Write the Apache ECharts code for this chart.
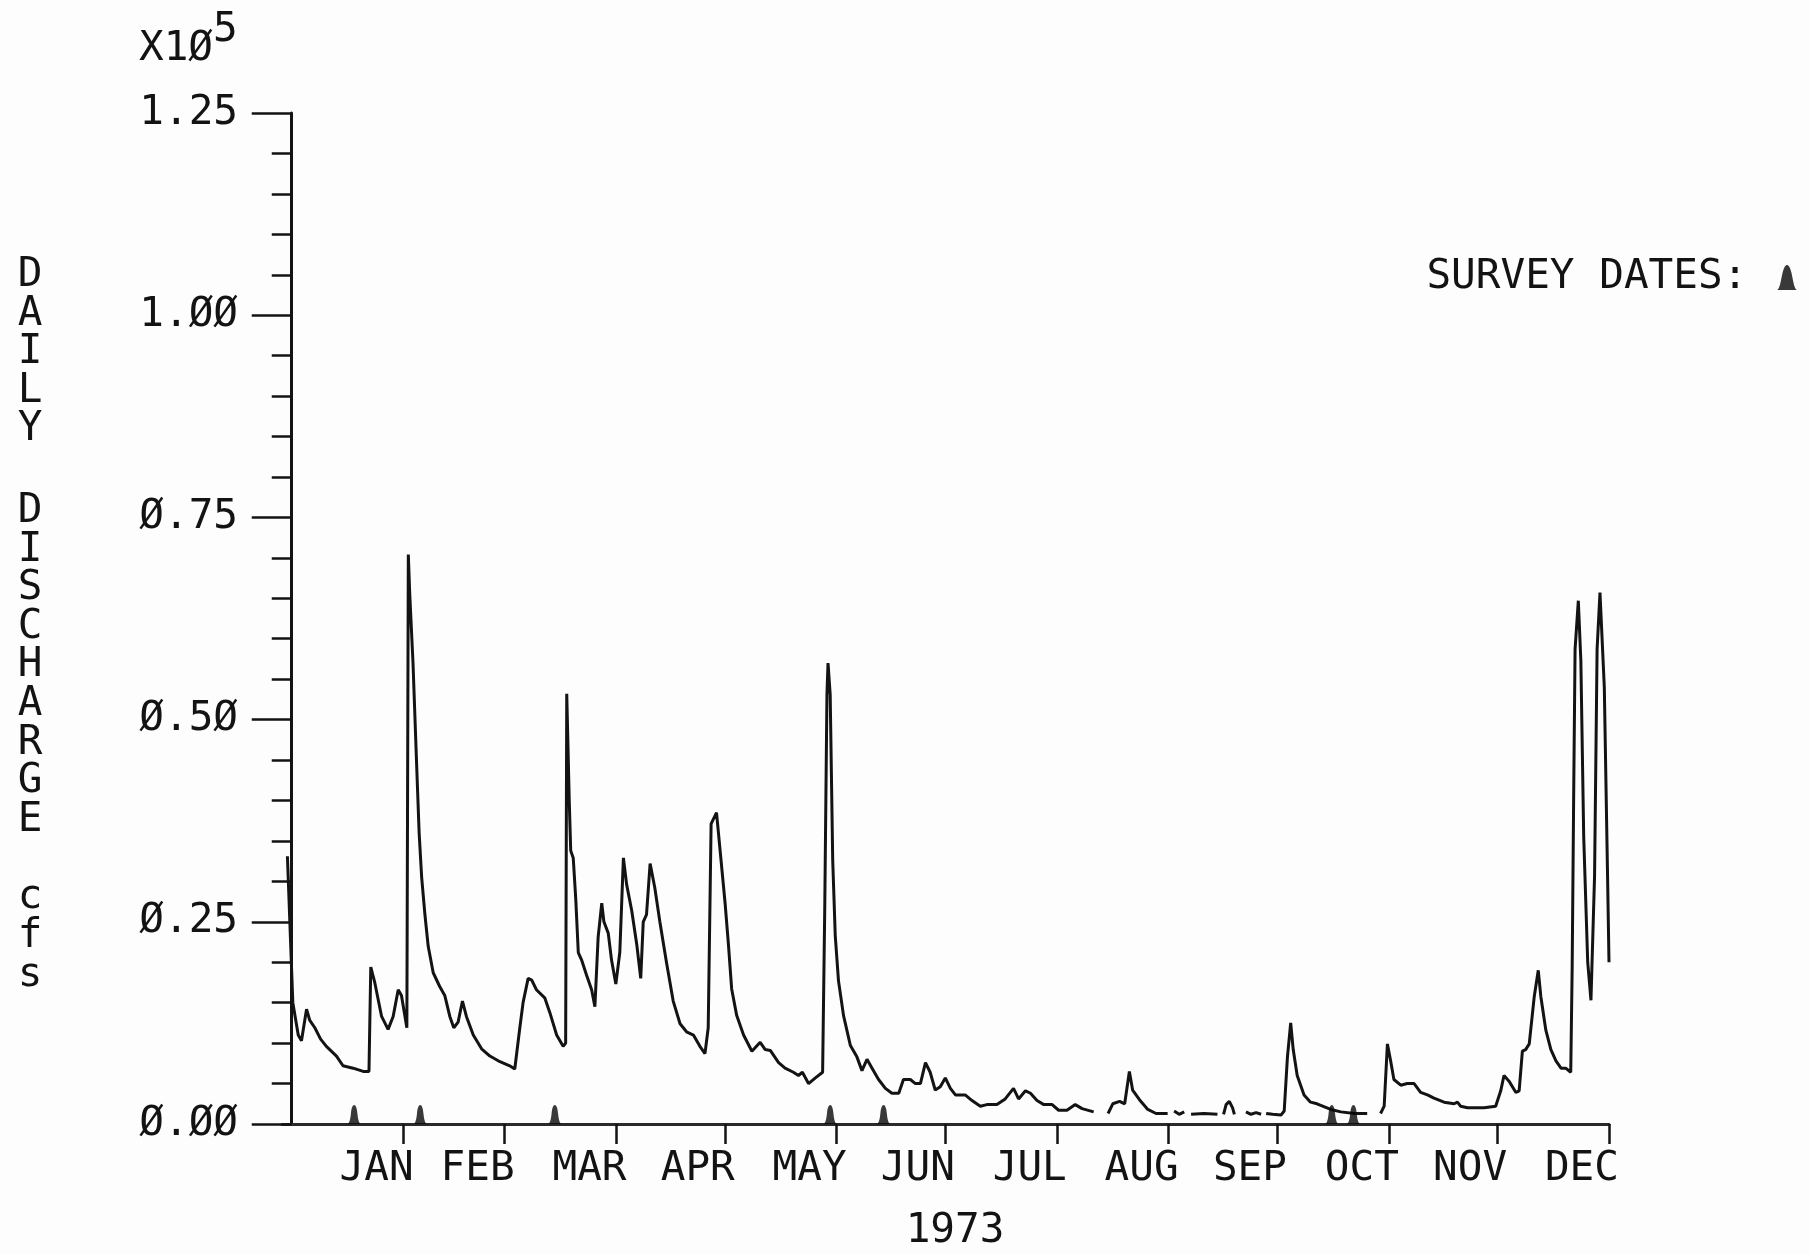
<!DOCTYPE html>
<html>
<head>
<meta charset="utf-8">
<title>Daily discharge 1973</title>
<script src="https://cdn.jsdelivr.net/npm/echarts@6/dist/echarts.min.js"></script>
<style>
  html, body { margin: 0; padding: 0; background: #fdfdfd; }
  #chart { width: 1810px; height: 1254px; }
</style>
</head>
<body>
<div id="chart"></div>
<script>
// Month labels and the day-of-year at which each month ends (tick positions)
const monthNames = ['JAN', 'FEB', 'MAR', 'APR', 'MAY', 'JUN', 'JUL', 'AUG', 'SEP', 'OCT', 'NOV', 'DEC'];
const monthEnds = [31, 59, 90, 120, 151, 181, 212, 243, 273, 304, 334, 365];

// Days (from Jan 1) on which surveys were made
const surveyDays = [17.3, 35.6, 72.9, 149.2, 164.0, 288.2, 294.2];

// Daily discharge, [day of year, cfs x 10^5]; null marks a break in the record
const discharge = [
  [-1.2, 0.331], [0.3, 0.150], [1.8, 0.110], [2.7, 0.103], [4.1, 0.142], [5.0, 0.128],
  [6.4, 0.119], [8.0, 0.105], [9.6, 0.096], [12.4, 0.084], [14.2, 0.072], [17.0, 0.069],
  [19.8, 0.065], [21.4, 0.065], [21.9, 0.194], [23.0, 0.175], [24.9, 0.133], [26.7, 0.117],
  [28.1, 0.133], [29.5, 0.166], [30.4, 0.159], [31.9, 0.119], [32.3, 0.704], [32.7, 0.655],
  [33.6, 0.570], [34.6, 0.445], [35.3, 0.360], [36.0, 0.305], [36.9, 0.259], [37.8, 0.220],
  [39.2, 0.187], [41.0, 0.170], [42.4, 0.159], [43.8, 0.133], [44.9, 0.119], [46.1, 0.126],
  [47.3, 0.152], [48.4, 0.133], [50.3, 0.110], [52.6, 0.093], [54.9, 0.084], [57.7, 0.077],
  [60.4, 0.072], [61.8, 0.068], [63.2, 0.119], [64.1, 0.150], [65.5, 0.180], [66.5, 0.178],
  [67.8, 0.166], [70.1, 0.156], [71.5, 0.138], [73.4, 0.110], [75.2, 0.096], [75.9, 0.100],
  [76.2, 0.532], [76.9, 0.399], [77.3, 0.338], [78.0, 0.329], [78.7, 0.278], [79.4, 0.212],
  [80.3, 0.203], [81.7, 0.184], [83.1, 0.166], [84.0, 0.145], [84.9, 0.231], [85.9, 0.273],
  [86.5, 0.250], [87.7, 0.236], [88.6, 0.203], [89.8, 0.173], [90.9, 0.212], [91.9, 0.329],
  [92.8, 0.296], [94.2, 0.264], [95.6, 0.222], [96.7, 0.180], [97.4, 0.250], [98.3, 0.259],
  [99.3, 0.322], [100.6, 0.292], [102.0, 0.250], [103.9, 0.198], [105.7, 0.152], [107.6, 0.124],
  [109.4, 0.114], [111.3, 0.110], [113.1, 0.096], [114.5, 0.087], [115.4, 0.119], [116.2, 0.371],
  [117.7, 0.385], [118.7, 0.338], [120.1, 0.272], [121.0, 0.222], [121.9, 0.167], [123.3, 0.134],
  [125.2, 0.110], [127.5, 0.090], [129.8, 0.101], [131.2, 0.092], [132.6, 0.091], [134.9, 0.076],
  [136.7, 0.069], [139.0, 0.064], [140.4, 0.060], [141.5, 0.064], [143.2, 0.050], [145.1, 0.057],
  [147.1, 0.064], [147.7, 0.270], [148.3, 0.531], [148.6, 0.570], [149.2, 0.531], [149.9, 0.326],
  [150.6, 0.233], [151.5, 0.177], [152.9, 0.134], [154.8, 0.097], [156.6, 0.083], [158.0, 0.066],
  [159.4, 0.080], [160.8, 0.069], [162.6, 0.055], [164.5, 0.044], [166.3, 0.038], [168.2, 0.038],
  [169.5, 0.055], [171.4, 0.055], [172.8, 0.050], [174.2, 0.050], [175.6, 0.076], [176.9, 0.064],
  [178.3, 0.042], [179.7, 0.046], [181.1, 0.057], [182.5, 0.044], [183.9, 0.036], [186.6, 0.036],
  [188.5, 0.029], [190.8, 0.022], [192.6, 0.024], [195.4, 0.024], [197.7, 0.031], [200.0, 0.044],
  [201.4, 0.031], [203.3, 0.041], [204.7, 0.038], [206.5, 0.029], [208.4, 0.024], [210.7, 0.024],
  [212.5, 0.017], [214.8, 0.017], [217.1, 0.024], [219.0, 0.019], [222.2, 0.015], [224.0, null],
  [226.2, 0.013], [227.5, 0.025], [229.4, 0.028], [230.8, 0.025], [232.1, 0.065], [233.0, 0.042],
  [234.9, 0.030], [237.2, 0.018], [239.5, 0.013], [242.7, 0.013], [243.6, null],
  [244.5, 0.016], [245.9, 0.012], [247.3, 0.015], [248.2, null],
  [249.2, 0.012], [252.8, 0.013], [256.5, 0.012], [257.3, null],
  [258.2, 0.012], [258.9, 0.024], [259.8, 0.028], [260.7, 0.020], [261.2, 0.012], [262.8, null],
  [264.4, 0.015], [265.8, 0.012], [267.2, 0.014], [268.6, 0.012], [269.3, null],
  [270.0, 0.013], [271.8, 0.012], [274.1, 0.011], [275.0, 0.016], [275.9, 0.083], [276.8, 0.125],
  [277.5, 0.092], [278.6, 0.060], [280.5, 0.036], [282.3, 0.027], [284.1, 0.025], [287.9, 0.018],
  [290.7, 0.015], [294.4, 0.013], [298.0, 0.013], [300.0, null],
  [301.7, 0.013], [302.7, 0.022], [303.6, 0.099], [304.5, 0.078], [305.4, 0.055], [307.3, 0.048],
  [309.1, 0.050], [311.0, 0.050], [312.8, 0.039], [314.7, 0.036], [316.5, 0.032], [319.3, 0.027],
  [322.1, 0.025], [323.0, 0.027], [323.9, 0.022], [325.8, 0.020], [330.4, 0.020], [333.6, 0.022],
  [335.0, 0.041], [335.9, 0.060], [337.3, 0.053], [339.2, 0.039], [340.1, 0.041], [341.0, 0.090],
  [341.9, 0.092], [342.9, 0.099], [344.3, 0.158], [345.4, 0.190], [346.1, 0.158], [347.5, 0.116],
  [348.9, 0.092], [350.3, 0.078], [351.7, 0.069], [353.0, 0.069], [354.4, 0.064], [354.8, 0.195],
  [355.2, 0.400], [355.6, 0.587], [356.5, 0.647], [357.2, 0.573], [358.0, 0.354], [359.1, 0.200],
  [360.0, 0.153], [361.0, 0.307], [361.7, 0.587], [362.5, 0.657], [363.7, 0.540], [364.6, 0.307],
  [365.0, 0.200]
];

const FONT = '"DejaVu Sans Mono", monospace';
const INK = '#131313';
const FONT_SIZE = 41;

// Month names sit just left of their month-end tick
const LABEL_SHIFT = 7.5;
const labelValues = monthEnds.map(d => d - LABEL_SHIFT);

// Plotter-style zero with a slash
const plotterNumber = v => v.toFixed(2).replace(/0/g, '\u00D8');

// Bell-shaped survey marker (rounded top, flared base)
const bellPath = 'path://M0,20 C2,20 3,15 3.5,9 C4,3 5,0 6.5,0 C8,0 9,3 9.5,9 C10,15 11,20 13,20 Z';
// Larger bell used as the legend key
const keyPath = 'path://M0,25 C2.5,25 4,15 5.5,8 C7,2 8.5,0 10,0 C11.5,0 13,2 14.5,8 C16,15 17.5,25 20,25 Z';

const chart = echarts.init(document.getElementById('chart'), null, { renderer: 'canvas' });

chart.setOption({
  animation: false,
  backgroundColor: '#fdfdfd',
  grid: { left: 282, right: 201, top: 113, bottom: 130, containLabel: false },
  legend: {
    right: 8,
    top: 252,
    align: 'right',
    selectedMode: false,
    icon: keyPath,
    itemWidth: 20,
    itemHeight: 25,
    formatter: name => name + ' ',
    textStyle: { fontFamily: FONT, fontSize: 41, color: INK },
    data: ['SURVEY DATES:']
  },
  xAxis: {
    type: 'value',
    min: -2.7,
    max: 365,
    axisLine: { show: true, onZero: false, lineStyle: { color: '#2a2a2a', width: 3 } },
    axisTick: {
      show: true,
      customValues: monthEnds,
      length: 20,
      lineStyle: { color: INK, width: 2.5 }
    },
    axisLabel: {
      show: true,
      customValues: labelValues,
      margin: 25,
      fontFamily: FONT,
      fontSize: FONT_SIZE,
      color: INK,
      formatter: v => {
        const i = labelValues.findIndex(d => Math.abs(d - v) < 0.01);
        return i >= 0 ? monthNames[i] : '';
      }
    },
    splitLine: { show: false }
  },
  yAxis: {
    type: 'value',
    min: 0,
    max: 1.25,
    interval: 0.25,
    axisLine: { show: true, lineStyle: { color: INK, width: 3 } },
    axisTick: { show: true, length: 40, lineStyle: { color: INK, width: 2.5 } },
    minorTick: { show: true, splitNumber: 5, length: 20, lineStyle: { color: INK, width: 2.5 } },
    axisLabel: {
      margin: 44,
      fontFamily: FONT,
      fontSize: FONT_SIZE,
      color: INK,
      formatter: plotterNumber
    },
    splitLine: { show: false }
  },
  series: [
    {
      name: 'Daily discharge',
      type: 'line',
      data: discharge,
      showSymbol: false,
      connectNulls: false,
      lineStyle: { color: INK, width: 3 },
      z: 3
    },
    {
      name: 'SURVEY DATES:',
      type: 'scatter',
      data: surveyDays.map(d => [d, 0]),
      symbol: bellPath,
      symbolSize: [14, 19],
      symbolOffset: [0, '-50%'],
      itemStyle: { color: '#080808' },
      z: 4
    }
  ],
  graphic: [
    // Scale factor above the value axis
    { type: 'text', left: 139, top: 29, style: { text: 'X1\u00D8', font: FONT_SIZE + 'px ' + FONT, fill: INK } },
    { type: 'text', left: 213, top: 10, style: { text: '5', font: FONT_SIZE + 'px ' + FONT, fill: INK } },
    // Stacked axis title
    { type: 'text', x: 30, y: 256, style: { text: 'DAILY'.split('').join('\n'), font: FONT_SIZE + 'px ' + FONT, lineHeight: 38.6, align: 'center', verticalAlign: 'top', fill: INK } },
    { type: 'text', x: 30, y: 492, style: { text: 'DISCHARGE'.split('').join('\n'), font: FONT_SIZE + 'px ' + FONT, lineHeight: 38.6, align: 'center', verticalAlign: 'top', fill: INK } },
    { type: 'text', x: 30, y: 878, style: { text: 'cfs'.split('').join('\n'), font: FONT_SIZE + 'px ' + FONT, lineHeight: 39, align: 'center', verticalAlign: 'top', fill: INK } },
    // Year under the month labels
    { type: 'text', x: 955, y: 1231, style: { text: '1973', font: FONT_SIZE + 'px ' + FONT, align: 'center', verticalAlign: 'middle', fill: INK } }
  ]
});
</script>
</body>
</html>
